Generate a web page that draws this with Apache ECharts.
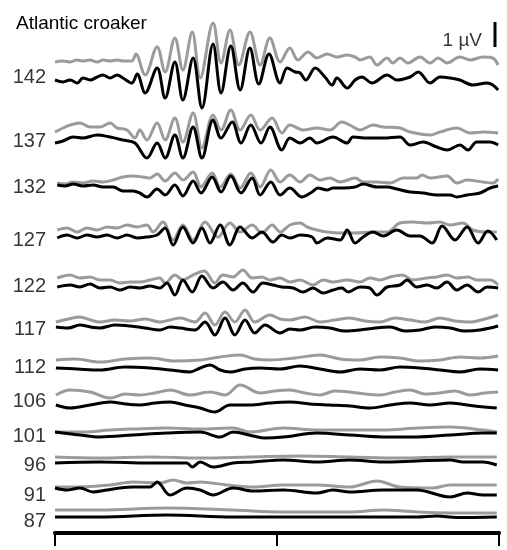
<!DOCTYPE html>
<html><head><meta charset="utf-8">
<script src="https://cdn.jsdelivr.net/npm/echarts@6/dist/echarts.min.js"></script>
<style>html,body{margin:0;padding:0;background:#fff}#c{width:507px;height:550px}</style>
</head><body><div id="c"></div>
<script>
// stimulus levels (dB re 1 µPa)
const levels = ['142','137','132','127','122','117','112','106','101','96','91','87'];
// stacked position (µV) of each level label
const labelPos = [18.24, 15.68, 13.84, 11.72, 9.88, 8.16, 6.64, 5.28, 3.88, 2.72, 1.52, 0.48];
// traces: [time ms, stacked amplitude µV]
const g142 = [[0,18.84],[0.18,18.88],[0.34,18.84],[0.50,18.92],[0.63,18.88],[0.79,18.92],[0.95,18.84],[1.08,18.92],[1.24,18.88],[1.40,18.92],[1.53,18.88],[1.73,18.88],[1.82,19.16],[2.03,18.32],[2.30,19.44],[2.48,18.44],[2.70,19.80],[2.88,18.52],[3.09,20.04],[3.27,18.20],[3.56,20.40],[3.74,18.80],[3.94,20.12],[4.14,18.72],[4.39,20.04],[4.62,18.72],[4.84,19.80],[5.07,18.84],[5.29,19.40],[5.47,18.92],[5.70,19.24],[5.90,19.00],[6.13,19.16],[6.35,19.04],[6.58,19.12],[6.76,19.04],[6.87,18.92],[7.09,19.04],[7.25,18.72],[7.48,19.00],[7.61,18.80],[7.77,19.00],[7.95,18.80],[8.22,19.04],[8.45,18.80],[8.63,19.00],[8.83,18.80],[9.12,19.04],[9.35,18.92],[9.64,19.04],[9.86,19.00],[9.98,18.72]];
const b142 = [[0,18.12],[0.18,18.04],[0.34,18.12],[0.50,18.00],[0.63,18.20],[0.79,18.12],[0.95,18.24],[1.08,18.32],[1.24,18.20],[1.40,18.32],[1.53,18.20],[1.73,18.00],[1.85,18.36],[2.03,17.60],[2.30,18.60],[2.48,17.40],[2.70,18.84],[2.88,17.32],[3.11,19.00],[3.31,17.00],[3.56,19.56],[3.74,17.60],[3.96,19.48],[4.17,17.72],[4.39,19.40],[4.59,17.96],[4.82,19.16],[5.07,18.00],[5.23,18.60],[5.41,18.44],[5.52,18.40],[5.65,18.12],[5.86,18.60],[6.08,18.24],[6.24,17.92],[6.35,18.20],[6.58,17.80],[6.76,18.12],[6.91,18.24],[7.14,18.00],[7.48,18.32],[7.70,18.12],[8.00,18.24],[8.18,18.44],[8.45,18.00],[8.67,18.24],[8.90,18.20],[9.12,18.12],[9.41,17.92],[9.73,18.00],[9.86,17.92],[9.98,17.72]];
const g137 = [[0,16.04],[0.18,16.20],[0.34,16.32],[0.56,16.40],[0.79,16.24],[1.01,16.24],[1.24,16.40],[1.40,16.20],[1.62,16.12],[1.80,15.80],[1.91,16.12],[2.07,15.72],[2.30,16.40],[2.48,15.72],[2.70,16.60],[2.88,15.64],[3.11,16.80],[3.31,15.40],[3.56,16.72],[3.74,16.12],[3.96,16.92],[4.17,16.12],[4.41,16.72],[4.62,16.12],[4.89,16.60],[5.11,16.00],[5.29,16.32],[5.59,16.12],[5.90,16.20],[6.19,16.12],[6.46,16.44],[6.64,16.32],[6.87,16.12],[7.16,16.32],[7.39,16.24],[7.77,16.20],[8.00,16.04],[8.45,15.92],[8.67,16.04],[9.05,16.20],[9.35,16.00],[9.64,16.04],[9.98,16.00]];
const b137 = [[0,15.60],[0.18,15.68],[0.41,15.84],[0.63,15.80],[0.95,15.92],[1.24,15.84],[1.53,15.72],[1.80,15.60],[2.07,15.00],[2.30,15.60],[2.48,15.00],[2.70,15.92],[2.88,15.00],[3.11,16.24],[3.31,15.00],[3.56,16.52],[3.74,15.80],[3.99,16.44],[4.19,15.60],[4.41,16.32],[4.64,15.60],[4.84,16.24],[5.11,15.32],[5.29,15.80],[5.52,15.60],[5.74,15.80],[5.90,15.60],[6.26,15.84],[6.58,15.60],[6.71,15.84],[7.03,15.80],[7.39,15.80],[7.77,15.84],[8.00,15.52],[8.29,15.64],[8.60,15.44],[8.83,15.32],[9.12,15.52],[9.30,15.32],[9.50,15.64],[9.80,15.64],[9.98,15.52]];
const g132 = [[0.05,14.00],[0.23,13.96],[0.41,14.04],[0.63,14.00],[0.86,14.08],[1.08,14.04],[1.31,14.12],[1.53,14.24],[1.76,14.28],[1.98,14.24],[2.14,14.20],[2.30,14.36],[2.48,14.08],[2.70,14.40],[2.88,14.12],[3.11,14.44],[3.29,13.84],[3.54,14.40],[3.72,13.84],[3.96,14.36],[4.17,13.80],[4.41,14.40],[4.62,13.84],[4.86,14.52],[5.07,14.04],[5.29,14.32],[5.52,14.04],[5.74,14.32],[5.97,14.12],[6.19,14.20],[6.42,14.04],[6.76,14.20],[6.94,14.04],[7.25,14.04],[7.55,14.00],[7.84,14.20],[8.15,14.20],[8.27,14.32],[8.45,14.20],[8.83,14.28],[9.05,14.00],[9.28,14.12],[9.64,14.04],[9.86,14.00],[9.98,14.16]];
const b132 = [[0.05,13.92],[0.23,13.88],[0.41,13.96],[0.63,13.88],[0.86,13.92],[1.08,13.84],[1.31,13.84],[1.53,13.68],[1.76,13.68],[1.91,13.60],[2.07,13.44],[2.30,13.76],[2.48,13.52],[2.70,13.92],[2.88,13.48],[3.11,14.08],[3.29,13.60],[3.54,14.24],[3.74,13.64],[3.96,14.28],[4.19,13.60],[4.44,14.20],[4.62,13.52],[4.86,14.04],[5.07,13.52],[5.29,13.80],[5.56,13.44],[5.79,13.64],[5.92,13.80],[6.13,13.72],[6.26,13.80],[6.49,13.80],[6.76,13.84],[6.94,13.96],[7.25,13.84],[7.48,13.84],[7.70,13.76],[8.00,13.64],[8.29,13.60],[8.60,13.52],[8.90,13.52],[9.05,13.44],[9.28,13.52],[9.57,13.60],[9.80,13.80],[9.98,13.88]];
const g127 = [[0.05,12.12],[0.27,12.20],[0.50,12.04],[0.72,12.20],[0.95,12.12],[1.17,12.24],[1.40,12.20],[1.62,12.32],[1.85,12.24],[2.07,12.32],[2.21,12.04],[2.43,12.44],[2.66,11.72],[2.88,12.32],[3.11,11.72],[3.38,12.44],[3.67,11.84],[3.94,12.40],[4.17,12.04],[4.44,12.32],[4.66,12.00],[4.89,12.32],[5.07,12.04],[5.29,12.32],[5.52,12.40],[5.68,12.24],[5.90,12.12],[6.13,12.04],[6.42,12.00],[6.76,12.00],[7.16,12.04],[7.48,12.04],[7.77,12.40],[8.06,12.44],[8.38,12.40],[8.67,12.44],[8.90,12.32],[9.19,12.40],[9.41,12.12],[9.73,12.04],[9.95,12.04]];
const b127 = [[0.05,11.80],[0.27,11.92],[0.50,11.80],[0.72,11.92],[0.95,11.84],[1.17,11.92],[1.40,11.80],[1.62,11.92],[1.85,11.80],[2.07,11.84],[2.30,11.92],[2.48,12.20],[2.66,11.52],[2.88,12.24],[3.11,11.60],[3.31,12.20],[3.49,11.60],[3.72,12.32],[3.94,11.52],[4.17,12.24],[4.44,11.80],[4.66,12.04],[4.91,11.64],[5.11,11.92],[5.29,11.80],[5.52,11.92],[5.79,11.84],[5.90,11.60],[6.13,11.80],[6.42,11.72],[6.58,12.12],[6.76,11.60],[6.94,11.84],[7.16,12.04],[7.39,11.88],[7.70,12.12],[8.00,11.88],[8.22,11.88],[8.49,11.60],[8.72,12.28],[9.01,11.72],[9.28,12.24],[9.53,11.60],[9.75,12.08],[9.95,11.72]];
const g122 = [[0.05,10.20],[0.34,10.32],[0.56,10.20],[0.79,10.24],[1.01,10.12],[1.24,10.12],[1.46,10.00],[1.69,10.04],[1.91,10.04],[2.14,10.12],[2.36,10.20],[2.48,10.00],[2.70,10.32],[2.88,10.12],[3.11,10.32],[3.36,10.48],[3.60,10.00],[3.78,10.32],[4.01,10.24],[4.23,10.52],[4.44,10.20],[4.66,10.24],[4.84,10.12],[5.07,10.20],[5.29,10.04],[5.52,10.12],[5.81,9.92],[6.04,10.12],[6.26,10.04],[6.58,10.12],[6.87,10.04],[7.09,10.20],[7.32,10.12],[7.55,10.24],[7.82,10.32],[8.06,10.12],[8.38,10.20],[8.60,10.24],[8.83,10.32],[9.05,10.20],[9.30,10.24],[9.50,10.12],[9.80,10.12],[9.98,9.92]];
const b122 = [[0.05,9.84],[0.34,9.92],[0.56,9.84],[0.79,9.96],[1.01,9.80],[1.24,9.84],[1.46,9.72],[1.69,9.84],[1.91,9.80],[2.14,9.88],[2.36,9.80],[2.52,10.00],[2.70,9.52],[2.88,10.12],[3.09,9.64],[3.31,10.28],[3.56,9.80],[3.78,10.04],[4.01,9.72],[4.23,10.00],[4.46,9.64],[4.68,10.00],[4.91,9.92],[5.11,9.84],[5.36,9.80],[5.59,9.64],[5.81,9.80],[6.04,9.60],[6.26,9.72],[6.46,9.80],[6.60,9.64],[6.87,9.84],[7.09,9.80],[7.25,9.52],[7.48,9.84],[7.77,9.92],[7.93,10.12],[8.15,9.84],[8.38,9.92],[8.60,9.80],[8.83,10.04],[9.05,9.72],[9.28,9.92],[9.53,9.64],[9.73,9.84],[9.98,9.80]];
const g117 = [[0.02,8.44],[0.30,8.56],[0.56,8.64],[0.80,8.52],[1.01,8.44],[1.35,8.52],[1.69,8.48],[2.03,8.56],[2.36,8.44],[2.59,8.52],[2.82,8.60],[3.15,8.44],[3.38,8.80],[3.60,8.32],[3.83,8.84],[4.05,8.44],[4.28,8.92],[4.50,8.44],[4.84,8.72],[5.07,8.56],[5.29,8.52],[5.63,8.64],[5.97,8.44],[6.30,8.52],[6.64,8.60],[6.98,8.48],[7.32,8.44],[7.66,8.60],[8.00,8.52],[8.33,8.44],[8.67,8.60],[9.01,8.48],[9.35,8.44],[9.68,8.56],[9.98,8.72]];
const b117 = [[0.02,8.24],[0.30,8.20],[0.56,8.32],[0.80,8.24],[1.01,8.20],[1.35,8.32],[1.69,8.28],[2.03,8.20],[2.36,8.12],[2.59,8.24],[2.82,8.20],[3.15,8.12],[3.38,8.44],[3.60,7.92],[3.83,8.60],[4.05,7.92],[4.28,8.52],[4.50,8.00],[4.73,8.32],[5.07,8.00],[5.29,8.16],[5.52,8.12],[5.86,8.24],[6.19,8.20],[6.53,8.08],[6.87,8.12],[7.21,8.20],[7.55,8.24],[7.88,8.08],[8.22,8.12],[8.56,8.24],[8.90,8.20],[9.23,8.08],[9.57,8.12],[9.98,8.28]];
const g112 = [[0.02,6.92],[0.45,6.96],[1.01,6.84],[1.58,6.96],[2.14,7.00],[2.70,6.88],[3.27,6.92],[3.72,7.04],[4.17,7.12],[4.50,6.96],[4.84,6.92],[5.41,7.00],[5.97,7.12],[6.42,6.96],[6.87,6.92],[7.32,7.04],[7.77,7.00],[8.22,6.88],[8.67,6.92],[9.12,7.04],[9.57,7.00],[9.98,7.08]];
const b112 = [[0.02,6.60],[0.50,6.56],[1.01,6.52],[1.58,6.64],[2.14,6.60],[2.59,6.52],[3.04,6.44],[3.27,6.60],[3.49,6.72],[3.72,6.52],[3.94,6.44],[4.28,6.56],[4.62,6.60],[5.07,6.56],[5.52,6.68],[5.97,6.56],[6.42,6.44],[6.87,6.56],[7.32,6.52],[7.77,6.64],[8.22,6.60],[8.67,6.52],[9.12,6.44],[9.57,6.56],[9.98,6.52]];
const g106 = [[0.02,5.52],[0.34,5.72],[0.79,5.64],[1.24,5.40],[1.58,5.56],[1.91,5.52],[2.25,5.60],[2.59,5.72],[3.04,5.52],[3.49,5.64],[3.83,5.52],[4.17,5.92],[4.62,5.60],[4.95,5.68],[5.29,5.72],[5.63,5.60],[5.97,5.52],[6.30,5.68],[6.64,5.64],[6.98,5.56],[7.32,5.52],[7.66,5.64],[8.00,5.72],[8.33,5.56],[8.67,5.60],[9.01,5.68],[9.35,5.52],[9.68,5.60],[9.98,5.64]];
const b106 = [[0.02,5.12],[0.34,5.00],[0.79,5.12],[1.24,5.24],[1.58,5.16],[1.91,5.12],[2.25,5.20],[2.59,5.24],[2.93,5.12],[3.27,5.00],[3.60,4.84],[3.94,5.12],[4.39,5.12],[4.84,5.20],[5.29,5.24],[5.74,5.16],[6.19,5.12],[6.64,5.08],[7.09,5.00],[7.55,5.12],[8.00,5.20],[8.45,5.12],[8.90,5.20],[9.45,5.08],[9.95,5.00]];
const g101 = [[0,4.04],[0.63,4.04],[1.24,4.12],[1.76,4.16],[2.52,4.20],[3.27,4.16],[4.01,4.20],[4.39,4.04],[5.14,4.20],[5.90,4.12],[6.64,4.12],[7.39,4.12],[8.15,4.20],[8.90,4.24],[9.64,4.12],[9.95,4.04]];
const b101 = [[0,4.04],[0.56,3.92],[1.01,3.84],[1.76,3.92],[2.52,4.00],[3.27,4.04],[3.72,3.84],[4.01,4.04],[4.46,3.88],[4.73,3.80],[5.14,3.84],[5.90,4.00],[6.64,3.92],[7.39,3.84],[8.15,3.84],[8.90,3.92],[9.64,4.00],[9.95,4.00]];
const g96 = [[0,3.04],[1.01,3.00],[2.14,3.04],[3.27,3.00],[4.39,3.04],[5.52,3.08],[6.64,3.04],[7.77,3.00],[8.90,3.04],[9.95,3.04]];
const b96 = [[0,2.80],[1.01,2.84],[2.14,2.80],[2.97,2.80],[3.09,2.64],[3.27,2.84],[3.56,2.64],[4.01,2.80],[4.46,2.84],[5.14,2.92],[5.90,2.84],[6.64,2.92],[7.39,2.84],[8.15,2.88],[8.90,2.92],[9.19,2.84],[9.64,2.84],[9.95,2.72]];
const g91 = [[0,1.84],[0.56,1.84],[1.24,1.92],[1.76,2.04],[2.36,2.00],[2.66,2.12],[2.97,2.00],[3.27,2.04],[3.87,1.92],[4.46,1.84],[5.14,1.92],[5.90,1.92],[6.64,1.84],[7.25,2.08],[7.77,1.84],[8.51,1.80],[8.90,1.92],[9.64,1.92],[9.95,1.92]];
const b91 = [[0,1.80],[0.27,1.72],[0.56,1.80],[0.86,1.64],[1.17,1.72],[1.46,1.80],[1.76,1.84],[2.14,1.84],[2.30,2.04],[2.59,1.52],[2.97,1.80],[3.27,1.72],[3.56,1.52],[4.01,1.80],[4.46,1.68],[5.14,1.72],[5.90,1.60],[6.26,1.72],[6.64,1.64],[7.39,1.72],[8.15,1.72],[8.90,1.44],[9.28,1.60],[9.64,1.52],[9.95,1.52]];
const g87 = [[0,0.92],[1.01,0.92],[2.52,1.00],[4.01,0.92],[5.14,0.84],[6.64,0.84],[7.39,0.92],[8.15,0.84],[8.90,0.80],[9.95,0.80]];
const b87 = [[0,0.64],[1.01,0.64],[2.52,0.72],[4.01,0.64],[5.14,0.64],[6.64,0.64],[8.15,0.64],[8.60,0.68],[9.05,0.62],[9.95,0.64]];
const grayTraces = [g142,g137,g132,g127,g122,g117,g112,g106,g101,g96,g91,g87];
const blackTraces = [b142,b137,b132,b127,b122,b117,b112,b106,b101,b96,b91,b87];
// scale bar: 1 µV
const scaleBar = [[9.91,19.44],[9.91,20.44]];
const xTicks = [0, 5, 10];

const FONT = 'Liberation Sans, Arial, Helvetica, sans-serif';
const series = [];
grayTraces.forEach((d) => series.push({type:'line', data:d, showSymbol:false, smooth:0.35, silent:true,
  lineStyle:{color:'#9b9b9b', width:3}, z:2}));
blackTraces.forEach((d) => series.push({type:'line', data:d, showSymbol:false, smooth:0.35, silent:true,
  lineStyle:{color:'#000', width:3}, z:3}));
series.push({type:'scatter', symbolSize:0, silent:true, z:4,
  data: levels.map((l,i)=>({value:[0,labelPos[i]], name:l})),
  label:{show:true, position:'left', distance:9, formatter:(p)=>p.name, color:'#000', fontSize:20, fontFamily:FONT}});
series.push({type:'line', data:scaleBar, showSymbol:false, silent:true, lineStyle:{color:'#000', width:3}, z:4});
series.push({type:'scatter', symbolSize:0, silent:true, z:4,
  data:[{value:[9.91,scaleBar[0][1]+0.25], name:'1 µV'}],
  label:{show:true, position:'left', distance:13, formatter:(p)=>p.name, color:'#000', fontSize:19, fontFamily:FONT}});

const chart = echarts.init(document.getElementById('c'), null, {renderer:'canvas'});
chart.setOption({
  animation:false,
  backgroundColor:'#fff',
  title:{text:'Atlantic croaker', left:16, top:14, padding:0,
    textStyle:{fontSize:19, fontWeight:'normal', color:'#000', fontFamily:FONT}},
  grid:{left:55, right:8, top:8, bottom:17},
  xAxis:{type:'value', min:xTicks[0], max:xTicks[xTicks.length-1], interval:xTicks[1]-xTicks[0],
    axisLine:{show:true, lineStyle:{color:'#000', width:4}},
    axisTick:{show:true, length:13, lineStyle:{color:'#000', width:2}},
    axisLabel:{show:false}, splitLine:{show:false}},
  yAxis:{type:'value', min:0, max:21, show:false},
  series
});
</script></body></html>
